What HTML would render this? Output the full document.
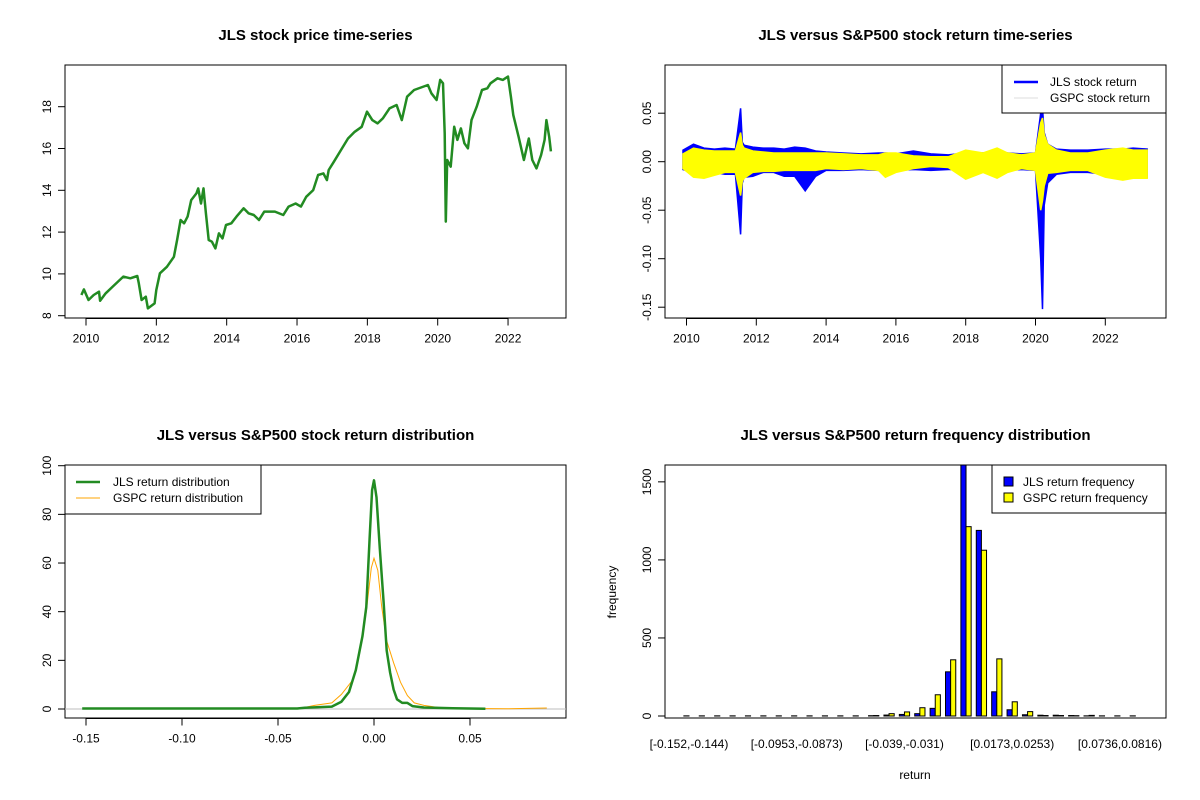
<!DOCTYPE html>
<html><head><meta charset="utf-8"><style>
body{margin:0;background:#fff}
svg{display:block;font-family:"Liberation Sans",Arial,sans-serif}
</style></head><body>
<svg id="c" width="1200" height="800" viewBox="0 0 1200 800"></svg>
<script>
// ---- Panel 1: price ----
const priceYears=[2009.87,2009.94,2010.07,2010.22,2010.37,2010.40,2010.56,2010.76,2010.91,2011.06,2011.26,2011.46,2011.50,2011.58,2011.70,2011.76,2011.95,2012.00,2012.10,2012.30,2012.50,2012.59,2012.69,2012.79,2012.89,2012.99,2013.14,2013.19,2013.27,2013.34,2013.41,2013.49,2013.58,2013.68,2013.78,2013.88,2013.98,2014.13,2014.28,2014.48,2014.62,2014.77,2014.92,2015.07,2015.37,2015.61,2015.76,2015.96,2016.11,2016.26,2016.46,2016.60,2016.75,2016.85,2016.90,2017.05,2017.25,2017.45,2017.64,2017.84,2017.99,2018.14,2018.29,2018.44,2018.63,2018.83,2018.98,2019.13,2019.33,2019.72,2019.82,2019.97,2020.07,2020.15,2020.20,2020.23,2020.27,2020.37,2020.47,2020.56,2020.66,2020.76,2020.86,2020.96,2021.11,2021.26,2021.41,2021.50,2021.70,2021.85,2022.00,2022.08,2022.15,2022.30,2022.45,2022.59,2022.69,2022.81,2022.94,2023.04,2023.09,2023.17,2023.22];
const priceValues=[8.99,9.26,8.75,8.99,9.15,8.72,9.07,9.39,9.63,9.87,9.79,9.90,9.55,8.75,8.91,8.35,8.59,9.23,10.03,10.34,10.82,11.62,12.58,12.42,12.74,13.53,13.85,14.09,13.37,14.09,12.90,11.62,11.54,11.22,11.94,11.70,12.34,12.42,12.74,13.14,12.90,12.82,12.58,12.98,12.98,12.82,13.22,13.37,13.22,13.69,14.01,14.73,14.81,14.49,14.97,15.37,15.93,16.48,16.80,17.04,17.76,17.36,17.20,17.44,17.92,18.08,17.36,18.48,18.80,19.04,18.64,18.32,19.28,19.12,16.72,12.50,15.45,15.13,17.04,16.41,16.96,16.25,16.01,17.36,18.00,18.80,18.88,19.12,19.36,19.28,19.44,18.48,17.60,16.56,15.45,16.48,15.45,15.05,15.69,16.41,17.36,16.56,15.86];
const yearTicks=[2010,2012,2014,2016,2018,2020,2022];
const priceTicks=[8,10,12,14,16,18];
// ---- Panel 2: returns envelope ----
const retYears=[2009.9,2010.2,2010.5,2010.8,2011.1,2011.4,2011.55,2011.6,2011.65,2011.9,2012.2,2012.5,2012.8,2013.1,2013.4,2013.7,2014.0,2014.5,2015.0,2015.5,2015.7,2016.0,2016.5,2017.0,2017.5,2018.0,2018.5,2018.9,2019.2,2019.6,2020.0,2020.15,2020.2,2020.25,2020.35,2020.6,2021.0,2021.5,2022.0,2022.5,2022.8,2023.2];
const jlsHi=[.012,.018,.014,.013,.014,.013,.055,.02,.017,.015,.014,.014,.013,.015,.014,.011,.01,.009,.008,.009,.009,.008,.011,.008,.007,.009,.009,.011,.009,.008,.009,.05,.055,.03,.018,.013,.012,.012,.013,.013,.014,.013];
const jlsLo=[-.008,-.011,-.011,-.011,-.013,-.013,-.075,-.022,-.016,-.015,-.011,-.011,-.015,-.015,-.03,-.015,-.009,-.009,-.008,-.009,-.011,-.009,-.008,-.009,-.008,-.008,-.009,-.011,-.009,-.008,-.009,-.1,-.152,-.045,-.022,-.013,-.011,-.011,-.013,-.015,-.015,-.016];
const gspcHi=[.008,.014,.012,.011,.011,.011,.03,.017,.014,.011,.01,.009,.009,.009,.009,.009,.009,.008,.007,.007,.009,.009,.006,.005,.005,.012,.009,.014,.009,.007,.009,.04,.045,.028,.018,.012,.009,.009,.012,.014,.012,.012];
const gspcLo=[-.007,-.016,-.017,-.014,-.011,-.011,-.035,-.02,-.017,-.011,-.01,-.01,-.009,-.009,-.009,-.009,-.007,-.008,-.007,-.009,-.016,-.011,-.007,-.005,-.006,-.018,-.011,-.017,-.011,-.007,-.009,-.05,-.04,-.025,-.012,-.011,-.009,-.009,-.016,-.019,-.017,-.017];
const retTicks=[0.05,0,-0.05,-0.10,-0.15];
const retTickLabels=["0.05","0.00","-0.05","-0.10","-0.15"];
// ---- Panel 3: densities ----
const jlsDx=[-0.152,-0.04,-0.036,-0.022,-0.017,-0.013,-0.0095,-0.006,-0.004,-0.0023,-0.001,0,0.0013,0.003,0.005,0.0066,0.0084,0.0102,0.012,0.0147,0.0174,0.02,0.026,0.041,0.058];
const jlsDy=[0.2,0.2,0.5,1,3,7,16,30,42,70,90,94,87,66,44,24,15,8,4,2.5,2.5,1.2,0.6,0.3,0.1];
const gspcDx=[-0.0507,-0.038,-0.031,-0.022,-0.017,-0.011,-0.0077,-0.004,-0.0014,0,0.002,0.004,0.0066,0.0102,0.0138,0.0174,0.021,0.026,0.0335,0.05,0.07,0.09];
const gspcDy=[0,0.3,1.5,2.5,6,12,22,40,58,62,57,42,28,19,11,5.5,2.5,1.5,0.6,0.2,0.1,0.4];
const densXTicks=[-0.15,-0.10,-0.05,0,0.05];
const densXLabels=["-0.15","-0.10","-0.05","0.00","0.05"];
const densYTicks=[0,20,40,60,80,100];
// ---- Panel 4: histogram ----
const binLabels=["[-0.152,-0.144)","[-0.0953,-0.0873)","[-0.039,-0.031)","[0.0173,0.0253)","[0.0736,0.0816)"];
const binLabelIdx=[0,7,14,21,28];
const jlsFreq=[1,1,1,1,1,1,1,1,1,1,1,1,2,6,10,15,49,283,1650,1189,155,40,8,5,5,3,1,1,1,1];
const gspcFreq=[0,0,0,0,0,0,0,0,0,0,0,0,3,15,26,53,136,360,1213,1062,366,91,28,3,3,2,4,0,0,0];
const freqTicks=[0,500,1000,1500];

const NS="http://www.w3.org/2000/svg";
const svg=document.getElementById('c');
function mk(tag,attrs,parent){const e=document.createElementNS(NS,tag);for(const k in attrs)e.setAttribute(k,attrs[k]);(parent||svg).appendChild(e);return e;}
function txt(s,x,y,opt,parent){const t=mk('text',Object.assign({x:x,y:y,'font-size':12,'text-anchor':'middle',fill:'#000'},opt||{}),parent);t.textContent=s;return t;}

function panel(name,x0,x1,y0,y1,title){
  const g=mk('g',{});
  
  
  const t=txt(title,(x0+x1)/2,40,{'font-size':15,'font-weight':'bold'},g);
  t.setAttribute('y',y0-25);
  
  
  return g;
}
function box(g,x0,x1,y0,y1){const r=mk('rect',{x:x0,y:y0,width:x1-x0,height:y1-y0,fill:'none',stroke:'#000','stroke-width':1},g);}
function xAxis(g,ticks,labels,sx,yb){
  const a=mk('g',{},g);
  mk('line',{x1:sx(ticks[0]),x2:sx(ticks[ticks.length-1]),y1:yb,y2:yb,stroke:'#000'},a);
  ticks.forEach((v,i)=>{mk('line',{x1:sx(v),x2:sx(v),y1:yb,y2:yb+7,stroke:'#000'},a);
    const t=txt(labels[i],sx(v),yb+24,{},a);});
}
function yAxis(g,ticks,labels,sy,xl){
  const a=mk('g',{},g);
  mk('line',{x1:xl,x2:xl,y1:sy(ticks[0]),y2:sy(ticks[ticks.length-1]),stroke:'#000'},a);
  ticks.forEach((v,i)=>{const y=sy(v);mk('line',{x1:xl,x2:xl-7,y1:y,y2:y,stroke:'#000'},a);
    const t=txt(labels[i],xl-14,y,{transform:`rotate(-90 ${xl-14} ${y})`},a);});
}
function pathD(xs,ys,sx,sy){return xs.map((v,i)=>(i?'L':'M')+sx(v).toFixed(1)+','+sy(ys[i]).toFixed(1)).join(' ');}

// Panel 1
{const X0=65,X1=566,Y0=65,Y1=318;
 const sx=v=>86+(v-2010)*35.17, sy=v=>315.7-(v-8)*20.9;
 const g=panel('price-panel',X0,X1,Y0,Y1,'JLS stock price time-series');
 box(g,X0,X1,Y0,Y1);
 xAxis(g,yearTicks,yearTicks.map(String),sx,Y1+0.5);
 yAxis(g,priceTicks,priceTicks.map(String),sy,X0);
 const p=mk('path',{d:pathD(priceYears,priceValues,sx,sy),fill:'none',stroke:'#228B22','stroke-width':2.5,'stroke-linejoin':'round'},g);
 
}
// Panel 2
{const X0=665,X1=1166,Y0=65,Y1=318;
 const sx=v=>686.5+(v-2010)*34.9, sy=v=>161.7-v*970;
 const g=panel('returns-panel',X0,X1,Y0,Y1,'JLS versus S&P500 stock return time-series');
 box(g,X0,X1,Y0,Y1);
 xAxis(g,yearTicks,yearTicks.map(String),sx,Y1+0.5);
 yAxis(g,retTicks,retTickLabels,sy,X0);
 function band(hi,lo,col,name){
   const d=pathD(retYears,hi,sx,sy)+' '+retYears.slice().reverse().map((v,i)=>'L'+sx(v).toFixed(1)+','+sy(lo[lo.length-1-i]).toFixed(1)).join(' ')+' Z';
   const p=mk('path',{d:d,fill:col,stroke:col,'stroke-width':1.5},g);
   
 }
 band(jlsHi,jlsLo,'#0000FF','jls-return-series');
 band(gspcHi,gspcLo,'#FFFF00','gspc-return-series');
 const lg=mk('g',{},g);
 mk('rect',{x:1002,y:Y0,width:X1-1002,height:48,fill:'#fff',stroke:'#000'},lg);
 mk('line',{x1:1014,x2:1038,y1:82,y2:82,stroke:'#0000FF','stroke-width':2.5},lg);
 mk('line',{x1:1014,x2:1038,y1:98,y2:98,stroke:'#DDDDDD','stroke-width':1},lg);
 let t=txt('JLS stock return',1050,86,{'text-anchor':'start'},lg);
 t=txt('GSPC stock return',1050,102,{'text-anchor':'start'},lg);
}
// Panel 3
{const X0=65,X1=566,Y0=465,Y1=718;
 const sx=v=>374+v*1920, sy=v=>709-v*2.433;
 const g=panel('density-panel',X0,X1,Y0,Y1,'JLS versus S&P500 stock return distribution');
 box(g,X0,X1,Y0,Y1);
 xAxis(g,densXTicks,densXLabels,sx,Y1+0.5);
 yAxis(g,densYTicks,densYTicks.map(String),sy,X0);
 mk('line',{x1:X0,x2:X1,y1:sy(0),y2:sy(0),stroke:'#BEBEBE'},g);
 let p=mk('path',{d:pathD(gspcDx,gspcDy,sx,sy),fill:'none',stroke:'#FFA500','stroke-width':1},g);
 
 p=mk('path',{d:pathD(jlsDx,jlsDy,sx,sy),fill:'none',stroke:'#228B22','stroke-width':2.5,'stroke-linejoin':'round'},g);
 
 const lg=mk('g',{},g);
 mk('rect',{x:X0,y:Y0,width:196,height:49,fill:'#fff',stroke:'#000'},lg);
 mk('line',{x1:76,x2:100,y1:482,y2:482,stroke:'#228B22','stroke-width':2.5},lg);
 mk('line',{x1:76,x2:100,y1:498,y2:498,stroke:'#FFA500','stroke-width':1},lg);
 let t=txt('JLS return distribution',113,486,{'text-anchor':'start'},lg);
 t=txt('GSPC return distribution',113,502,{'text-anchor':'start'},lg);
}
// Panel 4
{const X0=665,X1=1166,Y0=465,Y1=718;
 const unit=5.13, gc=i=>689+i*3*unit, sy=v=>716-v*0.1561;
 const g=panel('histogram-panel',X0,X1,Y0,Y1,'JLS versus S&P500 return frequency distribution');
 const clip=mk('clipPath',{id:'hc'},g);mk('rect',{x:X0,y:Y0,width:X1-X0,height:Y1-Y0},clip);
 const bars=mk('g',{'clip-path':'url(#hc)'},g);
 jlsFreq.forEach((v,i)=>{const r=mk('rect',{x:gc(i)-unit,y:sy(v),width:unit,height:sy(0)-sy(v),fill:'#0000FF',stroke:'#000','stroke-width':1},bars);
   });
 gspcFreq.forEach((v,i)=>{const r=mk('rect',{x:gc(i),y:sy(v),width:unit,height:sy(0)-sy(v),fill:'#FFFF00',stroke:'#000','stroke-width':1},bars);
   });
 box(g,X0,X1,Y0,Y1);
 yAxis(g,freqTicks,freqTicks.map(String),sy,X0);
 binLabelIdx.forEach((k,i)=>{const t=txt(binLabels[i],gc(k),748,{},g);});
 let t=txt('return',915,779,{},g);
 t=txt('frequency',616,592,{transform:'rotate(-90 616 592)'},g);
 const lg=mk('g',{},g);
 mk('rect',{x:992,y:Y0,width:X1-992,height:48,fill:'#fff',stroke:'#000'},lg);
 mk('rect',{x:1004,y:477,width:9,height:9,fill:'#0000FF',stroke:'#000'},lg);
 mk('rect',{x:1004,y:493,width:9,height:9,fill:'#FFFF00',stroke:'#000'},lg);
 t=txt('JLS return frequency',1023,486,{'text-anchor':'start'},lg);
 t=txt('GSPC return frequency',1023,502,{'text-anchor':'start'},lg);
}
</script>
</body></html>
